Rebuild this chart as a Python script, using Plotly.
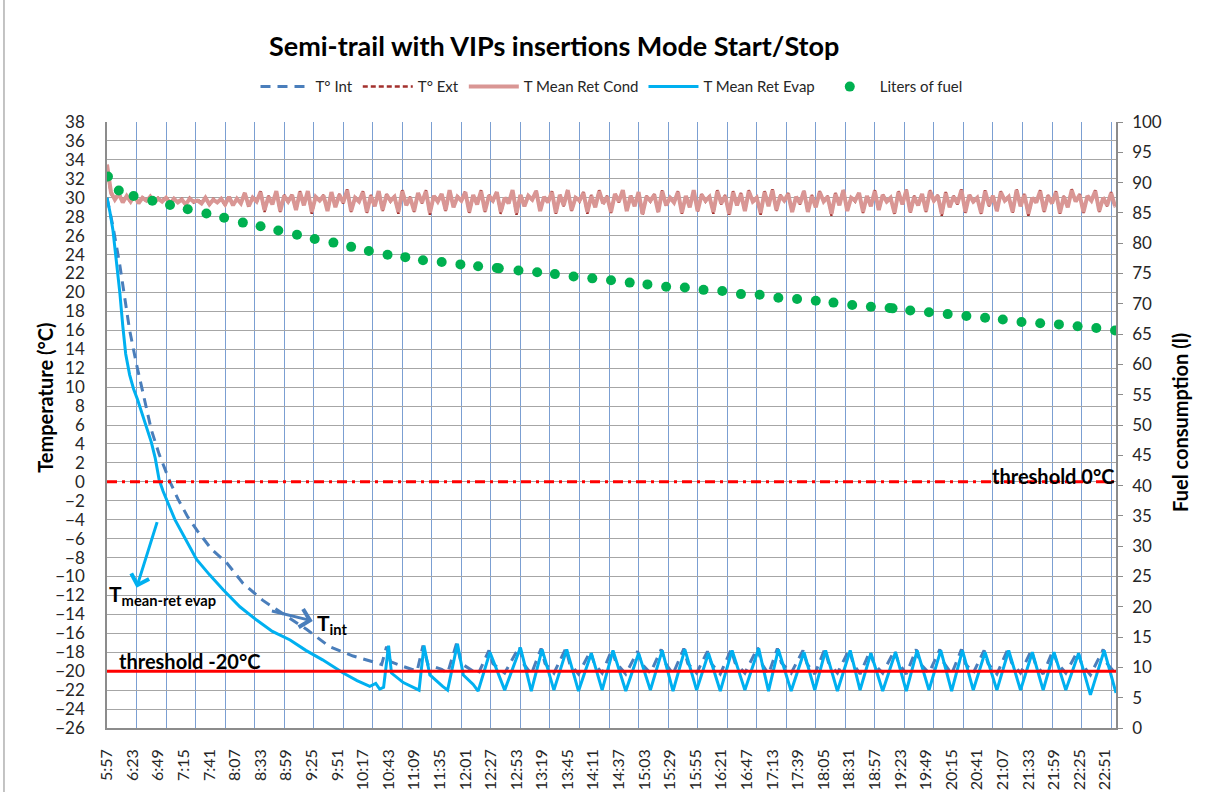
import plotly.graph_objects as go

# ---------------------------------------------------------------
# Clock labels on the category axis (one label every 26 minutes)
# ---------------------------------------------------------------
time_labels = [
    "5:57", "6:23", "6:49", "7:15", "7:41", "8:07", "8:33", "8:59", "9:25", "9:51",
    "10:17", "10:43", "11:09", "11:35", "12:01", "12:27", "12:53", "13:19", "13:45", "14:11",
    "14:37", "15:03", "15:29", "15:55", "16:21", "16:47", "17:13", "17:39", "18:05", "18:31",
    "18:57", "19:23", "19:49", "20:15", "20:41", "21:07", "21:33", "21:59", "22:25", "22:51",
]
START_LABEL = "5:57"
X_END = 1025          # last logged minute after 5:57
GRID_STEP = 30        # vertical grid every 30 minutes

# ---------------------------------------------------------------
# Temperatures (°C) – times are minutes after 5:57
# ---------------------------------------------------------------
evap_t = [0, 3, 6, 10, 13, 16, 19, 23, 27, 31, 36, 41, 45, 49, 53, 57, 62, 69, 79, 91,
          104, 118, 135, 152, 168, 186, 202, 219, 240, 254, 267, 273, 277, 281, 286, 289,
          301, 314, 317, 322, 328, 341, 346, 356, 362, 372, 377, 389, 404, 420, 431, 442,
          454, 467, 479, 492, 503, 514, 527, 540, 552, 564, 575, 587, 599, 611, 623, 635,
          648, 662, 672, 682, 695, 708, 719, 730, 742, 755, 765, 776, 788, 801, 812, 823,
          835, 847, 858, 869, 880, 892, 904, 916, 928, 940, 951, 962, 974, 987, 999, 1013,
          1025]
evap_v = [30.0, 28.5, 26.6, 23.0, 20.0, 16.5, 13.5, 11.3, 9.8, 8.7, 7.0, 5.5, 4.2, 2.5, 0.2,
          -1.0, -2.2, -4.0, -5.9, -8.2, -9.8, -11.4, -13.2, -14.6, -15.8, -16.7, -17.8, -18.8,
          -20.2, -21.0, -21.6, -21.3, -21.9, -21.7, -17.3, -20.2, -21.2, -21.8, -22.0, -17.3,
          -20.4, -21.6, -22.0, -17.1, -20.4, -21.4, -22.1, -18.0, -22.0, -17.5, -22.1, -17.7,
          -22.0, -17.7, -22.1, -18.1, -22.0, -17.8, -22.1, -18.1, -22.0, -17.8, -22.1, -17.7,
          -22.0, -18.1, -22.1, -17.8, -22.0, -17.6, -22.1, -17.7, -22.1, -18.0, -22.0, -17.8,
          -22.1, -17.8, -22.0, -18.1, -22.1, -18.0, -22.1, -17.8, -22.0, -17.8, -22.1, -17.8,
          -22.0, -18.0, -22.0, -17.8, -22.0, -18.0, -22.0, -18.0, -22.0, -18.1, -22.5, -17.8,
          -22.3]

int_t = [0, 6, 13, 18, 23, 30, 38, 45, 53, 64, 72, 82, 92, 106, 122, 138, 158, 178, 203, 226,
         250, 270, 279, 284, 288, 301, 315, 321, 326, 340, 346, 355, 360, 372, 377, 388, 392,
         404, 419, 423, 431, 441, 445, 454, 466, 470, 479, 491, 495, 503, 513, 517, 527, 539,
         543, 552, 563, 567, 575, 586, 590, 599, 610, 614, 623, 634, 638, 648, 661, 665, 672,
         681, 685, 695, 707, 711, 719, 729, 733, 742, 754, 758, 765, 775, 779, 788, 800, 804,
         812, 822, 826, 835, 846, 850, 858, 868, 872, 880, 891, 895, 904, 915, 919, 928, 939,
         943, 951, 961, 965, 974, 986, 990, 999, 1012, 1016, 1025]
int_v = [30.0, 27.0, 22.9, 19.2, 16.0, 12.4, 8.7, 5.5, 2.9, 0.0, -1.8, -3.7, -5.2, -7.1, -8.6,
         -10.7, -12.5, -13.9, -15.6, -17.4, -18.4, -19.0, -19.3, -17.4, -19.0, -19.5, -20.0,
         -17.3, -19.3, -19.8, -20.2, -17.1, -19.2, -20.0, -20.3, -17.8, -19.2, -20.2, -17.4,
         -19.2, -20.3, -17.6, -19.2, -20.2, -17.6, -19.2, -20.3, -17.9, -19.2, -20.2, -17.7,
         -19.1, -20.3, -17.9, -19.2, -20.2, -17.7, -19.1, -20.3, -17.6, -19.2, -20.2, -17.9,
         -19.2, -20.3, -17.7, -19.1, -20.2, -17.5, -19.2, -20.3, -17.6, -19.1, -20.2, -17.8,
         -19.2, -20.3, -17.7, -19.1, -20.2, -17.7, -19.2, -20.3, -17.9, -19.2, -20.2, -17.8,
         -19.1, -20.3, -17.7, -19.2, -20.2, -17.7, -19.1, -20.3, -17.7, -19.2, -20.2, -17.8,
         -19.2, -20.3, -17.7, -19.1, -20.2, -17.8, -19.2, -20.3, -17.8, -19.1, -20.2, -17.9,
         -19.2, -20.4, -17.7, -19.2, -20.3]

# Condenser return / outside temperature, logged every 4 minutes
SAMPLE_STEP = 4
cond_v = [
    33.5, 30.6, 29.8, 30.4, 29.5, 30.2, 29.6, 30.3, 29.4, 30.0, 29.7, 30.1, 29.5, 29.9, 29.6, 30.0,
    29.4, 29.9, 29.5, 29.8, 29.3, 29.9, 29.6, 29.7, 29.4, 30.0, 29.3, 29.8, 29.5, 29.9, 29.3, 30.1,
    29.2, 29.9, 29.4, 30.5, 29.1, 30.0, 29.6, 30.6, 28.7, 30.1, 29.3, 30.7, 28.6, 30.2, 29.6, 30.3,
    28.7, 30.6, 29.2, 30.7, 28.5, 30.1, 29.7, 30.2, 28.6, 30.6, 29.0, 30.3, 29.5, 30.8, 28.6, 30.0,
    29.6, 30.6, 28.5, 30.2, 29.1, 30.7, 28.7, 30.3, 29.7, 30.1, 28.5, 30.7, 29.2, 30.0, 28.6, 30.5,
    29.5, 30.7, 28.4, 30.2, 29.6, 30.4, 28.7, 30.8, 29.0, 30.1, 29.7, 30.6, 28.5, 30.3, 29.3, 30.7,
    28.6, 30.2, 29.7, 30.6, 28.5, 30.0, 29.4, 30.8, 28.4, 30.3, 29.1, 30.2, 29.8, 30.7, 28.6, 30.1,
    29.5, 30.6, 28.4, 30.3, 29.2, 30.8, 28.7, 30.0, 29.7, 30.5, 28.5, 30.2, 29.0, 30.7, 29.4, 30.1,
    28.5, 30.4, 29.6, 30.8, 28.6, 30.2, 29.1, 30.6, 28.3, 30.1, 29.7, 30.3, 28.5, 30.7, 29.2, 30.0,
    29.5, 30.6, 28.4, 30.2, 29.0, 30.8, 28.6, 30.3, 29.7, 30.1, 28.5, 30.7, 29.4, 30.2, 28.3, 30.6,
    29.2, 30.4, 28.6, 30.7, 29.6, 30.0, 28.4, 30.6, 29.1, 30.8, 28.7, 30.2, 29.7, 30.4, 28.5, 30.1,
    29.4, 30.7, 28.5, 30.2, 29.0, 30.6, 29.6, 30.1, 28.3, 30.4, 29.2, 30.8, 28.6, 30.0, 29.7, 30.5,
    28.5, 30.2, 29.1, 30.7, 28.7, 30.3, 29.6, 30.0, 28.4, 30.6, 29.3, 30.8, 28.5, 30.1, 29.2, 30.4,
    28.6, 30.7, 29.7, 30.2, 28.3, 30.5, 29.0, 30.1, 29.4, 30.8, 28.5, 30.3, 29.6, 30.0, 28.4, 30.7,
    29.2, 30.2, 28.6, 30.6, 29.7, 30.1, 28.5, 30.8, 29.1, 30.3, 28.3, 30.0, 29.5, 30.7, 28.6, 30.2,
    29.4, 30.6, 28.4, 30.1, 29.0, 30.8, 29.6, 30.3, 28.5, 30.2, 29.7, 30.7, 28.6, 30.0, 29.2, 30.5,
    29.1,
]
ext_v = [
    33.0, 30.4, 29.9, 30.5, 29.6, 30.2, 29.5, 30.4, 29.5, 30.1, 29.6, 30.2, 29.4, 30.0, 29.7, 30.1,
    29.5, 29.8, 29.6, 29.9, 29.2, 30.0, 29.5, 29.8, 29.5, 30.1, 29.2, 29.9, 29.6, 29.8, 29.2, 30.2,
    29.3, 29.8, 29.5, 30.6, 29.0, 30.1, 29.5, 30.7, 28.5, 30.2, 29.4, 30.6, 28.5, 30.3, 29.5, 30.4,
    28.6, 30.7, 29.3, 30.6, 28.3, 30.2, 29.6, 30.3, 28.7, 30.5, 29.1, 30.4, 29.4, 30.9, 28.5, 30.1,
    29.5, 30.7, 28.4, 30.3, 29.2, 30.6, 28.6, 30.4, 29.6, 30.2, 28.3, 30.8, 29.3, 30.1, 28.5, 30.6,
    29.4, 30.8, 28.2, 30.3, 29.7, 30.3, 28.6, 30.7, 29.1, 30.2, 29.6, 30.7, 28.4, 30.2, 29.4, 30.8,
    28.5, 30.3, 29.6, 30.7, 28.3, 30.1, 29.5, 30.7, 28.2, 30.4, 29.2, 30.3, 29.7, 30.8, 28.5, 30.2,
    29.4, 30.7, 28.3, 30.4, 29.1, 30.9, 28.6, 30.1, 29.6, 30.6, 28.3, 30.3, 29.1, 30.8, 29.3, 30.2,
    28.4, 30.5, 29.5, 30.9, 28.5, 30.3, 29.2, 30.5, 28.1, 30.2, 29.6, 30.4, 28.4, 30.8, 29.1, 30.1,
    29.4, 30.7, 28.3, 30.3, 29.1, 30.7, 28.5, 30.4, 29.6, 30.2, 28.3, 30.8, 29.3, 30.3, 28.2, 30.7,
    29.3, 30.5, 28.5, 30.8, 29.5, 30.1, 28.2, 30.7, 29.2, 30.9, 28.6, 30.3, 29.6, 30.5, 28.4, 30.2,
    29.3, 30.8, 28.4, 30.3, 29.1, 30.7, 29.5, 30.2, 28.1, 30.5, 29.3, 30.9, 28.5, 30.1, 29.6, 30.6,
    28.4, 30.3, 29.2, 30.8, 28.6, 30.4, 29.5, 30.1, 28.3, 30.7, 29.2, 30.9, 28.4, 30.2, 29.3, 30.5,
    28.5, 30.8, 29.6, 30.3, 28.1, 30.6, 29.1, 30.2, 29.3, 30.9, 28.4, 30.4, 29.5, 30.1, 28.3, 30.8,
    29.1, 30.3, 28.5, 30.7, 29.6, 30.2, 28.4, 30.9, 29.2, 30.4, 28.1, 30.1, 29.4, 30.8, 28.5, 30.3,
    29.3, 30.7, 28.3, 30.2, 29.1, 30.9, 29.5, 30.4, 28.4, 30.3, 29.6, 30.8, 28.5, 30.1, 29.1, 30.6,
    29.0,
]

# ---------------------------------------------------------------
# Fuel left in the tank (litres)
# ---------------------------------------------------------------
fuel_t = [1, 12, 27, 46, 64, 82, 101, 119, 138, 156, 174, 193, 211, 230, 248, 266, 285, 303,
          321, 340, 359, 377, 396, 398, 418, 437, 455, 474, 493, 512, 531, 549, 568, 587, 606,
          625, 644, 663, 682, 701, 720, 738, 757, 776, 795, 798, 816, 835, 854, 873, 892, 910,
          929, 948, 967, 986, 1005, 1024]
fuel_l = [91.0, 88.7, 87.8, 87.0, 86.3, 85.6, 84.9, 84.2, 83.4, 82.8, 82.1, 81.4, 80.7, 80.1,
          79.4, 78.7, 78.1, 77.7, 77.2, 76.9, 76.5, 76.2, 75.9, 75.85, 75.5, 75.2, 74.9, 74.5,
          74.2, 73.9, 73.5, 73.2, 72.8, 72.7, 72.3, 72.1, 71.6, 71.5, 71.0, 70.8, 70.5, 70.2,
          69.8, 69.5, 69.3, 69.25, 68.9, 68.6, 68.3, 68.0, 67.7, 67.4, 67.0, 66.8, 66.6, 66.3,
          66.0, 65.6]

# Set-point thresholds (°C)
THRESHOLD_HIGH = 0
THRESHOLD_LOW = -20


def minutes_after_start(label):
    h, m = (int(p) for p in label.split(":"))
    h0, m0 = (int(p) for p in START_LABEL.split(":"))
    return (h * 60 + m) - (h0 * 60 + m0)


tick_positions = [minutes_after_start(lbl) for lbl in time_labels]
cond_t = list(range(0, SAMPLE_STEP * len(cond_v), SAMPLE_STEP))

FONT = "Lato, 'Open Sans', sans-serif"
TXT = "#262626"
AXIS_GREY = "#8c8c8c"
CLEAR = "rgba(0,0,0,0)"

fig = go.Figure()

fig.add_trace(go.Scatter(
    x=int_t, y=int_v, name="T° Int", mode="lines",
    line=dict(color="#4a7ebb", width=3, dash="10px,7px"),
))
fig.add_trace(go.Scatter(
    x=cond_t, y=ext_v, name="T° Ext", mode="lines",
    line=dict(color="#a3302d", width=2.5, dash="5px,3px"),
))
fig.add_trace(go.Scatter(
    x=cond_t, y=cond_v, name="T Mean Ret Cond", mode="lines",
    line=dict(color="#d99694", width=4),
))
fig.add_trace(go.Scatter(
    x=evap_t, y=evap_v, name="T Mean Ret Evap", mode="lines",
    line=dict(color="#00b0f0", width=3),
))
fig.add_trace(go.Scatter(
    x=fuel_t, y=fuel_l, name="Liters of fuel", mode="markers", yaxis="y2",
    marker=dict(color="#00b050", size=10),
))

# threshold lines across the whole plot width
fig.add_shape(type="line", xref="paper", x0=0, x1=1, yref="y",
              y0=THRESHOLD_HIGH, y1=THRESHOLD_HIGH, layer="above",
              line=dict(color="#ff0000", width=3, dash="10px,5px,3px,5px"))
fig.add_shape(type="line", xref="paper", x0=0, x1=1, yref="y",
              y0=THRESHOLD_LOW, y1=THRESHOLD_LOW, layer="above",
              line=dict(color="#ff0000", width=3))
# chart-area frame edge on the left side
fig.add_shape(type="line", xref="paper", yref="paper",
              x0=-0.1021, x1=-0.1021, y0=-0.11, y1=1.21,
              line=dict(color="#b0b0b0", width=1.5))

annotations = [
    # series call-outs
    dict(x=0.3, y=-12.0, xref="x", yref="y", xanchor="left", yanchor="middle",
         text="<b>T<sub>mean-ret evap</sub></b>", showarrow=False,
         font=dict(family=FONT, size=21, color="#000")),
    dict(x=30, y=-11.2, ax=51.4, ay=-4.1, xref="x", yref="y", axref="x", ayref="y",
         text="", showarrow=True, arrowhead=4, arrowsize=1.2, arrowwidth=3,
         arrowcolor="#00b0f0"),
    dict(x=211, y=-15.0, xref="x", yref="y", xanchor="left", yanchor="middle",
         text="<b>T<sub>int</sub></b>", showarrow=False,
         font=dict(family=FONT, size=21, color="#000")),
    dict(x=209, y=-14.7, ax=166, ay=-13.6, xref="x", yref="y", axref="x", ayref="y",
         text="", showarrow=True, arrowhead=4, arrowsize=1.2, arrowwidth=3,
         arrowcolor="#4a7ebb"),
    # threshold labels
    dict(x=9.7, y=-18.9, xref="x", yref="y", xanchor="left", yanchor="middle",
         text="<b>threshold -20°C</b>", showarrow=False,
         font=dict(family=FONT, size=20, color="#000")),
    dict(x=1, y=0.63, xref="paper", yref="y", xanchor="right", yanchor="middle",
         text="<b>threshold 0°C</b>", showarrow=False,
         font=dict(family=FONT, size=20, color="#000")),
    # axis titles
    dict(x=-0.0614, y=0.545, xref="paper", yref="paper", textangle=-90,
         xanchor="center", yanchor="middle", text="<b>Temperature (°C)</b>",
         showarrow=False, font=dict(family=FONT, size=20, color="#000")),
    dict(x=1.0634, y=0.505, xref="paper", yref="paper", textangle=-90,
         xanchor="center", yanchor="middle", text="<b>Fuel consumption (l)</b>",
         showarrow=False, font=dict(family=FONT, size=20, color="#000")),
]

fig.update_layout(
    width=1210, height=792,
    margin=dict(l=107, r=94, t=122, b=64, autoexpand=False),
    paper_bgcolor="white", plot_bgcolor="white",
    font=dict(family=FONT, color=TXT, size=16),
    title=dict(text="<b>Semi-trail with VIPs insertions Mode Start/Stop</b>",
               x=0.458, xref="container", xanchor="center",
               y=1 - 47 / 792, yref="container", yanchor="middle",
               font=dict(family=FONT, size=27, color="#000")),
    showlegend=True,
    legend=dict(orientation="h", x=0.5, xanchor="center", y=1.058, yanchor="middle",
                itemwidth=50,
                font=dict(family=FONT, size=15, color=TXT), bgcolor=CLEAR),
    xaxis=dict(
        range=[0, X_END], tickmode="array", tickvals=tick_positions, ticktext=time_labels,
        tickangle=-90, ticks="outside", ticklen=13, tickcolor=CLEAR,
        showgrid=False, zeroline=False, automargin=False,
        showline=True, linecolor=AXIS_GREY, linewidth=1.5,
        tickfont=dict(size=16, color=TXT),
        minor=dict(tick0=0, dtick=GRID_STEP, showgrid=True, gridcolor="#7b9fd2",
                   gridwidth=1, ticks=""),
    ),
    yaxis=dict(
        range=[-26, 38], dtick=2, tick0=0, showgrid=True, gridcolor="#a6a6a6", gridwidth=1,
        zeroline=False, showline=True, linecolor=AXIS_GREY, linewidth=1.5, automargin=False,
        ticks="outside", ticklen=17, tickcolor=CLEAR,
        tickfont=dict(size=17, color=TXT),
    ),
    yaxis2=dict(
        range=[0, 100], dtick=5, tick0=0, overlaying="y", side="right", showgrid=False,
        zeroline=False, showline=True, linecolor=AXIS_GREY, linewidth=1.5, automargin=False,
        ticks="outside", ticklen=5, tickcolor=AXIS_GREY, ticklabelstandoff=6,
        tickfont=dict(size=17, color=TXT),
    ),
    annotations=annotations,
)

fig.write_html("out.html")
